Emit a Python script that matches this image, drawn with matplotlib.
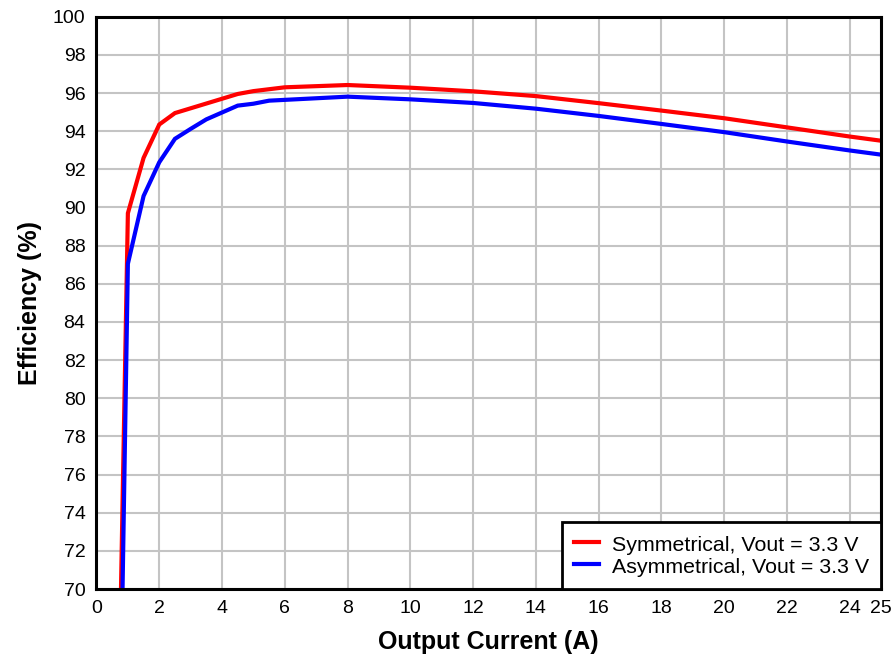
import matplotlib
matplotlib.use("Agg")
import matplotlib.pyplot as plt

# Efficiency vs output current
sym_current = [0.78, 1.0, 1.5, 2.0, 2.5, 3.5, 4.5, 5.0, 6.0, 8.0, 10, 12, 14, 16, 18, 20, 22, 24, 25]
sym_eff = [70.0, 89.7, 92.6, 94.35, 94.95, 95.45, 95.95, 96.1, 96.3, 96.42, 96.28, 96.09, 95.84,
           95.47, 95.08, 94.68, 94.2, 93.72, 93.5]

asym_current = [0.83, 1.0, 1.5, 2.0, 2.5, 3.0, 3.5, 4.5, 5.0, 5.5, 8.0, 10, 12, 14, 16, 18, 20, 22, 24, 25]
asym_eff = [70.0, 87.05, 90.6, 92.37, 93.6, 94.12, 94.62, 95.34, 95.44, 95.6, 95.81, 95.67, 95.48,
            95.18, 94.8, 94.38, 93.95, 93.46, 92.99, 92.77]

x_ticks = [0, 2, 4, 6, 8, 10, 12, 14, 16, 18, 20, 22, 24, 25]
y_ticks = list(range(70, 101, 2))

plt.rcParams['font.family'] = ['Liberation Sans', 'DejaVu Sans']

fig = plt.figure(figsize=(8.96, 6.56), dpi=100)
ax = fig.add_axes([0.1077, 0.1021, 0.8756, 0.8724])

ax.plot(sym_current, sym_eff, color='#ff0000', lw=3, label='Symmetrical, Vout = 3.3 V',
        solid_joinstyle='miter')
ax.plot(asym_current, asym_eff, color='#0000ff', lw=3, label='Asymmetrical, Vout = 3.3 V',
        solid_joinstyle='miter')

ax.set_xlim(0, 25)
ax.set_ylim(70, 100)
ax.set_xticks(x_ticks)
ax.set_yticks(y_ticks)
ax.tick_params(length=0, labelsize=14, pad=8)
ax.grid(True, color='#c4c4c4', lw=1.5)
ax.set_axisbelow(True)
for s in ax.spines.values():
    s.set_linewidth(2.2)
    s.set_color('black')

ax.set_xlabel('Output Current (A)', fontsize=18, fontweight='bold', labelpad=9)
ax.set_ylabel('Efficiency (%)', fontsize=18, fontweight='bold', labelpad=8)

leg = ax.legend(loc='lower right', borderaxespad=0, fancybox=False, framealpha=1,
                edgecolor='black', fontsize=15.4, handlelength=1.2, handletextpad=0.6,
                handleheight=1.15, borderpad=0.55, labelspacing=0.0)
leg.get_frame().set_linewidth(2)

fig.savefig('out.png', dpi=100)
